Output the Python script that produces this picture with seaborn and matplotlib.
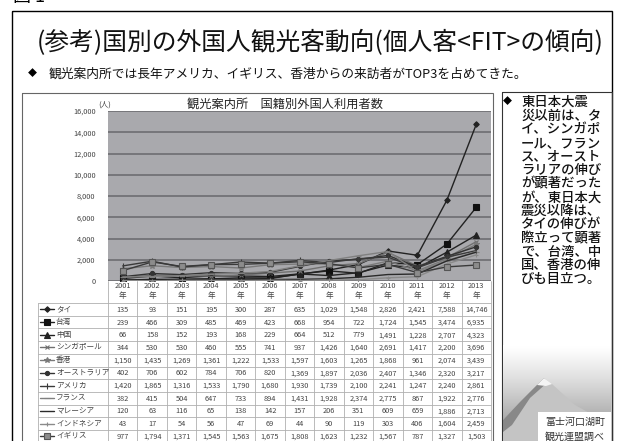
import numpy as np
import pandas as pd
import matplotlib
matplotlib.use('Agg')
import matplotlib.pyplot as plt
import seaborn as sns
from matplotlib.patches import Rectangle, Polygon
from matplotlib.lines import Line2D

# ---------------- data ----------------
years = ['2001', '2002', '2003', '2004', '2005', '2006', '2007',
         '2008', '2009', '2010', '2011', '2012', '2013']
countries = ['タイ', '台湾', '中国', 'シンガポール', '香港', 'オーストラリア',
             'アメリカ', 'フランス', 'マレーシア', 'インドネシア', 'イギリス']
thailand = [135, 93, 151, 195, 300, 287, 635, 1029, 1548, 2826, 2421, 7588, 14746]
taiwan = [239, 466, 309, 485, 469, 423, 668, 954, 722, 1724, 1545, 3474, 6935]
china = [66, 158, 152, 193, 168, 229, 664, 512, 779, 1491, 1228, 2707, 4323]
singapore = [344, 530, 530, 460, 555, 741, 937, 1426, 1640, 2691, 1417, 2200, 3696]
hongkong = [1150, 1435, 1269, 1361, 1222, 1533, 1597, 1603, 1265, 1868, 961, 2074, 3439]
australia = [402, 706, 602, 784, 706, 820, 1369, 1897, 2036, 2407, 1346, 2320, 3217]
usa = [1420, 1865, 1316, 1533, 1790, 1680, 1930, 1739, 2100, 2241, 1247, 2240, 2861]
france = [382, 415, 504, 647, 733, 894, 1431, 1928, 2374, 2775, 867, 1922, 2776]
malaysia = [120, 63, 116, 65, 138, 142, 157, 206, 351, 609, 659, 1886, 2713]
indonesia = [43, 17, 54, 56, 47, 69, 44, 90, 119, 303, 406, 1604, 2459]
uk = [977, 1794, 1371, 1545, 1563, 1675, 1808, 1623, 1232, 1567, 787, 1327, 1503]
series = [thailand, taiwan, china, singapore, hongkong, australia,
          usa, france, malaysia, indonesia, uk]
yticks = [0, 2000, 4000, 6000, 8000, 10000, 12000, 14000, 16000]

title = '(参考)国別の外国人観光客動向(個人客<FIT>の傾向)'
bullet = '観光案内所では長年アメリカ、イギリス、香港からの来訪者がTOP3を占めてきた。'
chart_title = '観光案内所　国籍別外国人利用者数'
side_lines = ['東日本大震', '災以前は、タ', 'イ、シンガポ', 'ール、フラン', 'ス、オースト',
              'ラリアの伸び', 'が顕著だった', 'が、東日本大', '震災以降は、', 'タイの伸びが',
              '際立って顕著', 'で、台湾、中', '国、香港の伸', 'びも目立つ。']
source_lines = ['富士河口湖町', '観光連盟調べ']

# ---------------- styles ----------------
styles = [
    dict(color='#222222', marker='D', ms=2.8, mfc='#222222', mec='#222222'),
    dict(color='#222222', marker='s', ms=4.0, mfc='#111111', mec='#111111'),
    dict(color='#222222', marker='^', ms=3.8, mfc='#222222', mec='#222222'),
    dict(color='#707070', marker='x', ms=3.5, mfc='none', mec='#707070'),
    dict(color='#7a7a7a', marker='*', ms=4.0, mfc='#7a7a7a', mec='#7a7a7a'),
    dict(color='#333333', marker='o', ms=3.0, mfc='#333333', mec='#333333'),
    dict(color='#3a3a3a', marker='|', ms=4.0, mfc='none', mec='#3a3a3a'),
    dict(color='#808080', marker='_', ms=4.0, mfc='none', mec='#808080'),
    dict(color='#2a2a2a', marker='', ms=0, mfc='none', mec='#2a2a2a'),
    dict(color='#8a8a8a', marker='+', ms=3.5, mfc='none', mec='#8a8a8a'),
    dict(color='#3a3a3a', marker='s', ms=4.0, mfc='#8c8c8c', mec='#555555'),
]

sns.set_style('white')
plt.rcParams['font.family'] = ['Noto Sans CJK JP', 'DejaVu Sans']

W, H = 617, 441
fig = plt.figure(figsize=(6.17, 4.41), dpi=100)
fig.patch.set_facecolor('white')


def fx(x):
    return x / W


def fy(y):
    return 1 - y / H


# overlay in pixel coordinates
ov = fig.add_axes([0, 0, 1, 1])
ov.set_xlim(0, W)
ov.set_ylim(H, 0)
ov.axis('off')
ov.set_zorder(0)

# slide decoration
ov.text(13, -3, '図 1', fontsize=13, ha='left', va='center', color='black')
ov.add_patch(Rectangle((12, 11), 600, 470, fill=False, ec='black', lw=1.0))
ov.text(320, 43, title, fontsize=17.8, ha='center', va='center', color='#111111')
ov.text(32, 74, '◆', fontsize=6.5, ha='center', va='center', color='black')
ov.text(49, 74, bullet, fontsize=9.2, ha='left', va='center', color='#111111')

# chart box and side box
ov.add_patch(Rectangle((22, 93), 471, 400, fill=False, ec='#666666', lw=0.8))
ov.add_patch(Rectangle((502, 92), 110, 400, fill=False, ec='#333333', lw=0.8))

# Fuji picture (gradient + mountain)
grad = np.linspace(0, 1, 200)[:, None] ** 1.2
img = 1 - 0.45 * grad
ov.imshow(np.repeat(img, 2, axis=1), cmap='gray', vmin=0, vmax=1,
          extent=(503, 611, 441, 345), aspect='auto', zorder=1)
ov.add_patch(Polygon([(503, 420), (520, 402), (537, 385), (544, 378), (552, 384),
                      (575, 405), (611, 425), (611, 441), (503, 441)],
                     closed=True, fc='#c4c4c4', ec='none', zorder=2))
ov.add_patch(Polygon([(503, 420), (520, 402), (537, 385), (544, 378), (548, 382),
                      (530, 398), (512, 425), (503, 432)],
                     closed=True, fc='#888888', ec='none', zorder=3))
ov.add_patch(Polygon([(537, 385), (544, 378), (552, 384), (546, 386)],
                     closed=True, fc='#f4f4f4', ec='none', zorder=3))
ov.add_patch(Rectangle((538, 412), 73, 40, fc='white', ec='none', zorder=4))
for i, s in enumerate(source_lines):
    ov.text(575, 422 + i * 15, s, fontsize=7.2, ha='center', va='center',
            color='#333333', zorder=5)

# side text
ov.text(507, 102, '◆', fontsize=6.5, ha='center', va='center', color='black')
for i, s in enumerate(side_lines):
    ov.text(521, 102 + i * 13.6, s, fontsize=9.6, ha='left', va='center',
            color='#111111', fontweight='medium')

# chart title and unit
ov.text(285, 104, chart_title, fontsize=8.8, ha='center', va='center', color='#222222')
ov.text(105, 105, '(人)', fontsize=5.5, ha='center', va='center', color='#444444')

# ---------------- plot ----------------
L, R, T, B = 108, 491, 111, 281
ax = fig.add_axes([fx(L), fy(B), (R - L) / W, (B - T) / H])
ax.set_zorder(2)
ax.set_facecolor('#a9a9ad')
xs = np.arange(len(years))
for name, vals, st in zip(countries, series, styles):
    df = pd.DataFrame({'x': xs, 'v': vals})
    sns.lineplot(data=df, x='x', y='v', ax=ax, color=st['color'], linewidth=1.0,
                 marker=st['marker'] if st['marker'] else None,
                 markersize=st['ms'], markerfacecolor=st['mfc'],
                 markeredgecolor=st['mec'], markeredgewidth=0.8, legend=False)
ax.set_xlim(-0.5, len(years) - 0.5)
ax.set_ylim(0, 16000)
ax.set_yticks(yticks)
ax.set_yticklabels([f'{v:,}' for v in yticks])
ax.set_xticks([])
ax.set_xlabel('')
ax.set_ylabel('')
ax.tick_params(axis='y', labelsize=5.3, colors='#444444', length=0, pad=9)
ax.grid(axis='y', color='#6e6e72', lw=1.2)
ax.set_axisbelow(True)
for sp in ax.spines.values():
    sp.set_visible(False)

# ---------------- data table ----------------
colw = (R - L) / len(years)
row0, rowh = 303, 12.7
nrows = len(countries)
tcol = '#b0b0b0'
for i in range(len(years) + 1):
    x = L + i * colw
    ov.plot([x, x], [B, H + 5], color=tcol, lw=0.6, zorder=1)
ov.plot([38, 38], [row0, H + 5], color=tcol, lw=0.6, zorder=1)
for k in range(nrows + 1):
    y = row0 + k * rowh
    ov.plot([38, R], [y, y], color=tcol, lw=0.6, zorder=1)
for i, yr in enumerate(years):
    cx = L + (i + 0.5) * colw
    ov.text(cx, 286, yr, fontsize=5.3, ha='center', va='center', color='#444444')
    ov.text(cx, 296, '年', fontsize=5.5, ha='center', va='center', color='#444444')
for k, (name, vals, st) in enumerate(zip(countries, series, styles)):
    cy = row0 + rowh * (k + 0.5)
    ov.add_line(Line2D([40, 54], [cy, cy], color=st['color'], lw=1.0, zorder=3))
    if st['marker']:
        ov.add_line(Line2D([47], [cy], marker=st['marker'], ms=st['ms'],
                           mfc=st['mfc'], mec=st['mec'], mew=0.8, zorder=3))
    ov.text(56, cy, name, fontsize=5.5, ha='left', va='center', color='#444444')
    for i, v in enumerate(vals):
        cx = L + (i + 0.5) * colw
        ov.text(cx, cy + 0.5, f'{v:,}', fontsize=5.3, ha='center', va='center',
                color='#444444')

fig.savefig('out.png', dpi=100)
